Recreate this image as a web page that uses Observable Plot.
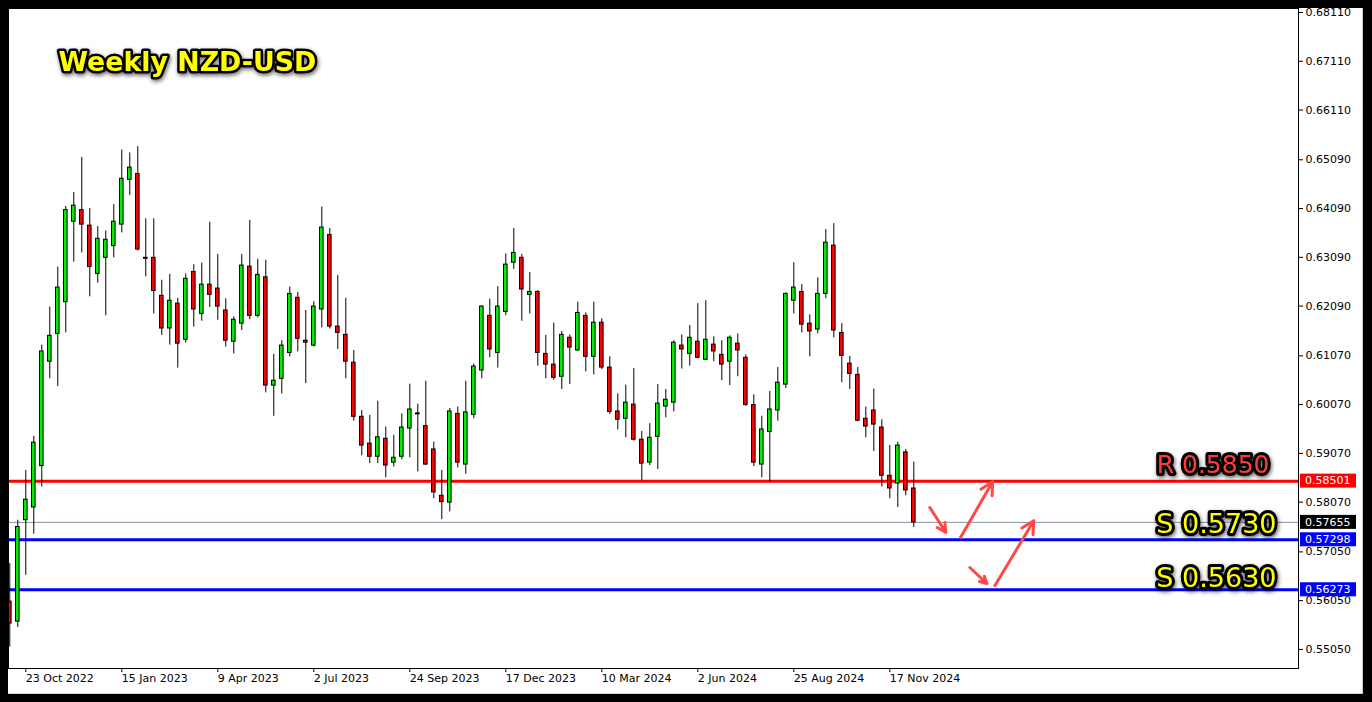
<!DOCTYPE html>
<html><head><meta charset="utf-8">
<script src="https://cdn.jsdelivr.net/npm/d3@7"></script>
<script src="https://cdn.jsdelivr.net/npm/@observablehq/plot@0.6"></script>
<style>
html,body{margin:0;padding:0;background:#000;width:1372px;height:702px;overflow:hidden;}
#wrap{position:absolute;left:8px;top:8px;width:1354px;height:685px;background:#fff;border-right:1px solid #d0d0d0;border-bottom:1px solid #d0d0d0;}
#wrap svg{display:block;}
.glow text{filter:drop-shadow(1px 2px 2px rgba(0,0,0,0.6));}
</style></head><body><div id="wrap"></div>
<script>
// ---- data ----
const title = "Weekly NZD-USD";
const firstWeek = "2022-10-09"; // weekly candles, Sunday start
const opens = [
0.5603,0.5562,0.5770,0.5796,0.5881,0.6095,0.6152,0.6217,0.6382,0.6406,
0.6374,0.6275,0.6308,0.6332,0.6376,0.6468,0.6480,0.6308,0.6308,0.6230,
0.6163,0.6214,0.6140,0.6279,0.6193,0.6253,0.6245,0.6200,0.6136,0.6173,
0.6290,0.6189,0.6268,0.6046,0.6060,0.6113,0.6226,0.6138,0.6128,0.6202,
0.6355,0.6167,0.6150,0.6093,0.5982,0.5927,0.5900,0.5937,0.5888,0.5900,
0.5958,0.5989,0.5963,0.5915,0.5820,0.5806,0.5988,0.5884,0.5986,0.6077,
0.6189,0.6113,0.6197,0.6298,0.6308,0.6232,0.6238,0.6111,0.6089,0.6064,
0.6144,0.6118,0.6189,0.6105,0.6175,0.6083,0.5993,0.5978,0.6007,0.5935,
0.5888,0.5941,0.6003,0.6011,0.6128,0.6111,0.6136,0.6099,0.6130,0.6109,
0.6095,0.6132,0.6103,0.6006,0.5884,0.5951,0.5995,0.6048,0.6220,0.6238,
0.6173,0.6161,0.6234,0.6333,0.6154,0.6091,0.6068,0.5978,0.5995,0.5960,
0.5861,0.5845,0.5909,0.5835];
const highs = [
0.5681,0.5770,0.5872,0.5942,0.6129,0.6207,0.6289,0.6413,0.6442,0.6514,
0.6409,0.6372,0.6363,0.6417,0.6529,0.6523,0.6536,0.6388,0.6388,0.6262,
0.6274,0.6225,0.6275,0.6294,0.6297,0.6381,0.6315,0.6224,0.6187,0.6315,
0.6385,0.6305,0.6303,0.6110,0.6138,0.6248,0.6237,0.6200,0.6218,0.6412,
0.6368,0.6272,0.6225,0.6118,0.5995,0.5985,0.6014,0.5961,0.5944,0.5988,
0.6049,0.6008,0.6055,0.5930,0.5872,0.5999,0.6002,0.6055,0.6090,0.6210,
0.6223,0.6249,0.6316,0.6368,0.6315,0.6278,0.6241,0.6149,0.6174,0.6157,
0.6150,0.6217,0.6195,0.6217,0.6183,0.6105,0.6029,0.6047,0.6081,0.5952,
0.5968,0.6048,0.6038,0.6138,0.6150,0.6169,0.6214,0.6220,0.6146,0.6138,
0.6148,0.6152,0.6109,0.6027,0.5983,0.6034,0.6083,0.6236,0.6298,0.6253,
0.6191,0.6267,0.6366,0.6378,0.6173,0.6106,0.6083,0.6002,0.6039,0.5976,
0.5923,0.5930,0.5915,0.5889];
const lows = [
0.5510,0.5550,0.5657,0.5741,0.5838,0.6060,0.6044,0.6154,0.6299,0.6318,
0.6228,0.6256,0.6189,0.6308,0.6359,0.6436,0.6322,0.6269,0.6193,0.6149,
0.6129,0.6082,0.6133,0.6166,0.6178,0.6206,0.6180,0.6125,0.6111,0.6159,
0.6181,0.6185,0.6031,0.5983,0.6029,0.6105,0.6115,0.6050,0.6125,0.6164,
0.6162,0.6120,0.6060,0.5973,0.5902,0.5886,0.5886,0.5857,0.5879,0.5894,
0.5898,0.5869,0.5882,0.5814,0.5771,0.5787,0.5877,0.5864,0.5978,0.6060,
0.6103,0.6082,0.6189,0.6284,0.6178,0.6193,0.6086,0.6060,0.6057,0.6038,
0.6048,0.6116,0.6074,0.6068,0.6079,0.5987,0.5955,0.5939,0.5932,0.5851,
0.5882,0.5874,0.5980,0.5992,0.6080,0.6086,0.6101,0.6097,0.6095,0.6056,
0.6046,0.6064,0.6004,0.5880,0.5857,0.5848,0.5973,0.6040,0.6193,0.6154,
0.6105,0.6152,0.6224,0.6144,0.6052,0.6038,0.5972,0.5939,0.5911,0.5838,
0.5814,0.5796,0.5820,0.5755];
const closes = [
0.5558,0.5756,0.5812,0.5929,0.6116,0.6148,0.6247,0.6406,0.6415,0.6376,
0.6289,0.6347,0.6345,0.6382,0.6470,0.6493,0.6325,0.6306,0.6240,0.6163,
0.6220,0.6132,0.6265,0.6202,0.6253,0.6232,0.6208,0.6138,0.6181,0.6292,
0.6189,0.6273,0.6046,0.6056,0.6128,0.6234,0.6142,0.6134,0.6208,0.6370,
0.6167,0.6154,0.6095,0.5982,0.5923,0.5900,0.5940,0.5882,0.5898,0.5960,
0.5997,0.5987,0.5884,0.5827,0.5807,0.5993,0.5888,0.5991,0.6085,0.6208,
0.6120,0.6208,0.6294,0.6318,0.6243,0.6238,0.6113,0.6089,0.6062,0.6150,
0.6124,0.6195,0.6105,0.6175,0.6083,0.5992,0.5976,0.6011,0.5935,0.5886,
0.5939,0.6009,0.6017,0.6134,0.6120,0.6144,0.6103,0.6140,0.6116,0.6089,
0.6144,0.6118,0.6006,0.5888,0.5956,0.5997,0.6052,0.6234,0.6247,0.6171,
0.6157,0.6234,0.6339,0.6159,0.6107,0.6070,0.5974,0.5962,0.5966,0.5861,
0.5835,0.5923,0.5831,0.57655];

const yTicks = [0.68110,0.67110,0.66110,0.65090,0.64090,0.63090,0.62090,0.61070,0.60070,0.59070,0.58070,0.57050,0.56050,0.55050];
const xTickDates = ["2022-10-23","2023-01-15","2023-04-09","2023-07-02","2023-09-24","2023-12-17","2024-03-10","2024-06-02","2024-08-25","2024-11-17"];

const currentPrice = 0.57655;
const levelValues = [0.58501, 0.57298, 0.56273];
const levelColors = ["#ff0000", "#0000ff", "#0000ff"];
const levelTexts = ["R 0.5850", "S 0.5730", "S 0.5630"];
const levelTextColors = ["#ff3a3a", "#ffff00", "#ffff00"];

const arrowFromDate = ["2024-12-22","2025-01-18","2025-01-26","2025-02-17"];
const arrowFromPrice = [0.5796, 0.5735, 0.5673, 0.5636];
const arrowToDate = ["2025-01-05","2025-02-15","2025-02-10","2025-03-23"];
const arrowToPrice = [0.5745, 0.5849, 0.5640, 0.5769];

// ---- build ----
const parse = d3.utcParse("%Y-%m-%d");
const t0 = parse(firstWeek);
const candles = opens.map((o, i) => {
  const date = d3.utcDay.offset(t0, 7 * i);
  return {date, x1: d3.utcHour.offset(date, -38), x2: d3.utcHour.offset(date, 38),
    open: o, high: highs[i], low: lows[i], close: closes[i],
    fill: closes[i] >= o ? "#00ee00" : "#ff0000"};
});
const arrows = arrowFromDate.map((d, i) => ({x1: parse(d), y1: arrowFromPrice[i], x2: parse(arrowToDate[i]), y2: arrowToPrice[i]}));
const levels = levelValues.map((v, i) => ({value: v, color: levelColors[i], text: levelTexts[i], tcolor: levelTextColors[i]}));
const fmtY = d3.format(".5f");

// label styling per level (size, offsets)
const labelStyle = [{fs: 25, dx: -29, dy: -8}, {fs: 27, dx: -22, dy: -7}, {fs: 27, dx: -22, dy: -3}];
const levelLabelMarks = levels.map((l, i) => Plot.text([l], {y: "value", text: "text", frameAnchor: "right",
  dx: labelStyle[i].dx, dy: labelStyle[i].dy, lineAnchor: "bottom", textAnchor: "end",
  fontSize: labelStyle[i].fs, fontFamily: "DejaVu Sans", fill: "tcolor",
  stroke: "#000", strokeWidth: 6, strokeLinejoin: "round", paintOrder: "stroke", className: "glow"}));

const chart = Plot.plot({
  width: 1354, height: 685,
  marginLeft: 0, marginTop: 0, marginRight: 64, marginBottom: 25,
  style: {fontFamily: "DejaVu Sans", fontSize: "11px", background: "#fff", color: "#000", overflow: "visible"},
  x: {type: "utc", domain: [d3.utcHour.offset(t0, -27), d3.utcHour.offset(t0, 27062)]},
  y: {domain: [0.54659, 0.68192]},
  marks: [
    Plot.ruleY([currentPrice], {stroke: "#8494a4", strokeWidth: 1}),
    Plot.ruleY(levels, {y: "value", stroke: "color", strokeWidth: 3}),
    Plot.ruleX(candles, {x: "date", y1: "low", y2: "high", stroke: "#000", strokeWidth: 1}),
    Plot.rect(candles, {x1: "x1", x2: "x2", y1: "open", y2: "close", fill: "fill", stroke: "#000", strokeWidth: 1}),
    Plot.arrow(arrows, {x1: "x1", y1: "y1", x2: "x2", y2: "y2", stroke: "#ff4848", strokeWidth: 3, headLength: 7, headAngle: 55}),
    Plot.frame({stroke: "#000"}),
    Plot.axisY({anchor: "right", ticks: yTicks, tickFormat: fmtY, tickSize: 4, tickPadding: 3, label: null}),
    Plot.axisX({ticks: xTickDates.map(parse), tickFormat: d3.utcFormat("%-d %b %Y"), tickSize: 4, tickPadding: 2, textAnchor: "start", label: null}),
    Plot.text([title], {frameAnchor: "top-left", dx: 50, dy: 62, text: d => d, fontSize: 26.8, fontWeight: "bold",
      fontFamily: "DejaVu Sans", fill: "#ffff00", stroke: "#000", strokeWidth: 5, strokeLinejoin: "round", paintOrder: "stroke",
      textAnchor: "start", lineAnchor: "bottom", className: "glow"}),
    ...levelLabelMarks
  ]
});
document.getElementById("wrap").appendChild(chart);

// price label boxes on the right axis, positioned with the chart's y scale
const yS = chart.scale("y");
const svg = d3.select(chart);
const boxes = [{v: levelValues[0], c: levelColors[0]}, {v: currentPrice, c: "#000"}, {v: levelValues[1], c: levelColors[1]}, {v: levelValues[2], c: levelColors[2]}];
const g = svg.append("g").attr("text-anchor", "start");
boxes.forEach(b => {
  const y = yS.apply(b.v);
  g.append("rect").attr("x", 1292).attr("y", y - 7).attr("width", 56).attr("height", 14).attr("fill", b.c);
  g.append("text").attr("x", 1297).attr("y", y).attr("dy", "0.35em").attr("fill", "#fff")
    .attr("text-anchor", "start").attr("font-family", "DejaVu Sans").attr("font-size", 11).text(fmtY(b.v));
});
</script>
</body></html>
